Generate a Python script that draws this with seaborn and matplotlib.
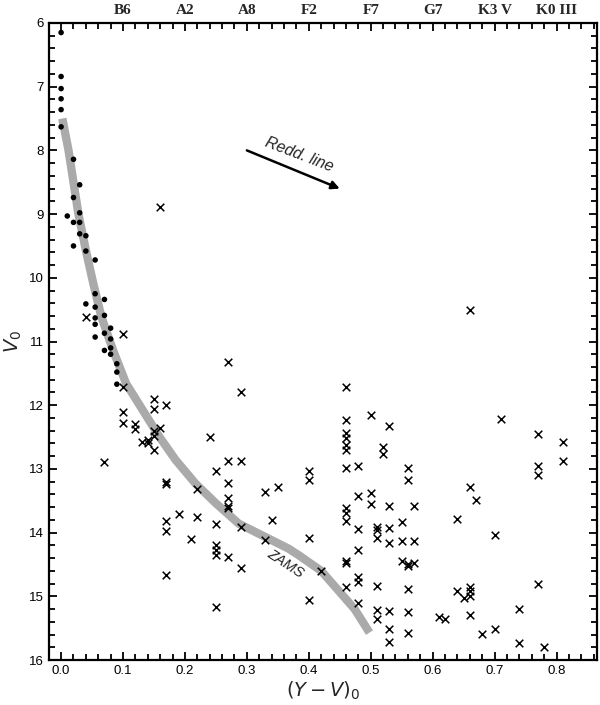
import matplotlib
matplotlib.use("Agg")
import matplotlib.pyplot as plt
from matplotlib.ticker import MultipleLocator
import pandas as pd
import seaborn as sns

# early-type stars (filled dots)
dot_x = [0.0, 0.0, 0.0, 0.0, 0.0, 0.0,
         0.02, 0.03, 0.02, 0.03, 0.01, 0.02, 0.03, 0.03, 0.04, 0.02, 0.04, 0.055,
         0.055, 0.07, 0.04, 0.055, 0.07, 0.055, 0.055, 0.08, 0.07, 0.055, 0.08,
         0.08, 0.07, 0.08, 0.09, 0.09, 0.09]
dot_v = [6.15, 6.84, 7.03, 7.19, 7.36, 7.63,
         8.14, 8.54, 8.74, 8.98, 9.03, 9.13, 9.13, 9.31, 9.34, 9.50, 9.58, 9.72,
         10.25, 10.34, 10.41, 10.46, 10.59, 10.63, 10.73, 10.79, 10.87, 10.93, 10.96,
         11.10, 11.14, 11.20, 11.35, 11.48, 11.67]

# other stars (crosses)
cross_x = [0.04, 0.10, 0.16, 0.10, 0.15, 0.17, 0.15, 0.10, 0.10, 0.12, 0.12, 0.16,
           0.15, 0.15, 0.13, 0.14, 0.14, 0.15, 0.07, 0.27, 0.29, 0.24, 0.27, 0.29,
           0.25, 0.17, 0.17, 0.27, 0.22, 0.27, 0.27, 0.27, 0.33, 0.35, 0.40, 0.40,
           0.19, 0.22, 0.17, 0.25, 0.34, 0.17, 0.29, 0.21, 0.33, 0.40, 0.25, 0.25,
           0.25, 0.27, 0.29, 0.17, 0.25, 0.42, 0.40,
           0.46, 0.46, 0.50, 0.53, 0.46, 0.46, 0.46, 0.46, 0.52, 0.52, 0.46, 0.48,
           0.56, 0.56, 0.48, 0.50, 0.50, 0.53, 0.57, 0.46, 0.46, 0.46, 0.55, 0.48,
           0.51, 0.51, 0.51, 0.53, 0.53, 0.55, 0.57, 0.48, 0.46, 0.46, 0.55, 0.56,
           0.56, 0.57, 0.48, 0.48, 0.46, 0.51, 0.56, 0.48, 0.51, 0.51, 0.53, 0.56,
           0.53, 0.53, 0.56,
           0.66, 0.71, 0.77, 0.81, 0.81, 0.77, 0.77, 0.66, 0.67, 0.64, 0.70, 0.64,
           0.66, 0.66, 0.66, 0.65, 0.66, 0.61, 0.62, 0.68, 0.70, 0.74, 0.74, 0.77,
           0.78]
cross_v = [10.61, 10.89, 8.89, 11.71, 11.91, 11.99, 12.06, 12.10, 12.28, 12.30, 12.38, 12.36,
           12.40, 12.49, 12.57, 12.54, 12.59, 12.71, 12.89, 11.32, 11.79, 12.50, 12.88, 12.88,
           13.03, 13.20, 13.23, 13.22, 13.31, 13.46, 13.59, 13.62, 13.37, 13.29, 13.03, 13.17,
           13.71, 13.76, 13.81, 13.86, 13.80, 13.97, 13.91, 14.10, 14.11, 14.09, 14.19, 14.27,
           14.35, 14.38, 14.55, 14.67, 15.17, 14.60, 15.05,
           11.71, 12.23, 12.15, 12.33, 12.44, 12.52, 12.62, 12.71, 12.65, 12.76, 12.98, 12.96,
           12.99, 13.18, 13.42, 13.38, 13.55, 13.59, 13.58, 13.62, 13.69, 13.81, 13.83, 13.94,
           13.91, 13.96, 14.08, 13.93, 14.16, 14.13, 14.13, 14.28, 14.44, 14.47, 14.45, 14.50,
           14.53, 14.47, 14.69, 14.78, 14.86, 14.84, 14.88, 15.11, 15.21, 15.35, 15.23, 15.25,
           15.52, 15.71, 15.57,
           10.50, 12.22, 12.45, 12.58, 12.88, 12.96, 13.09, 13.29, 13.49, 13.78, 14.04, 14.91,
           14.86, 14.91, 15.00, 15.02, 15.29, 15.32, 15.35, 15.59, 15.52, 15.20, 15.73, 14.81,
           15.80]

# zero-age main sequence, read along the grey band
zams_x = [0.002, 0.012, 0.028, 0.040, 0.052, 0.065, 0.084, 0.105, 0.132, 0.159, 0.185,
          0.217, 0.250, 0.287, 0.330, 0.367, 0.383, 0.420, 0.447, 0.474, 0.498]
zams_v = [7.50, 8.00, 9.00, 9.57, 10.09, 10.61, 11.14, 11.66, 12.08, 12.50, 12.86,
          13.23, 13.54, 13.86, 14.07, 14.25, 14.35, 14.60, 14.90, 15.20, 15.57]

# spectral types along the top axis
sp_pos = [0.1, 0.2, 0.3, 0.4, 0.5, 0.6, 0.7, 0.8]
sp_labels = ["B6", "A2", "A8", "F2", "F7", "G7", "K3 V", "K0 III"]

dots = pd.DataFrame({"yv": dot_x, "v0": dot_v})
crosses = pd.DataFrame({"yv": cross_x, "v0": cross_v})
zams = pd.DataFrame({"yv": zams_x, "v0": zams_v})

sns.set_style("ticks")
plt.rcParams["font.family"] = ["Liberation Sans", "DejaVu Sans"]
plt.rcParams["mathtext.fontset"] = "dejavusans"

fig = plt.figure(figsize=(6, 7.05), dpi=100)
ax = fig.add_axes([0.0817, 0.0638, 0.9133, 0.9036])

sns.lineplot(data=zams, x="yv", y="v0", sort=False, estimator=None,
             color="#aaaaaa", linewidth=6, solid_capstyle="butt",
             solid_joinstyle="round", ax=ax, zorder=1)
sns.scatterplot(data=dots, x="yv", y="v0", marker="o", s=16, color="black",
                edgecolor="none", ax=ax, zorder=3)
sns.scatterplot(data=crosses, x="yv", y="v0", marker="x", s=30, color="black",
                linewidth=1.1, ax=ax, zorder=3)

ax.set_xlim(-0.0195, 0.8654)
ax.set_ylim(16, 6)
ax.xaxis.set_major_locator(MultipleLocator(0.1))
ax.xaxis.set_minor_locator(MultipleLocator(0.02))
ax.yaxis.set_major_locator(MultipleLocator(1))
ax.yaxis.set_minor_locator(MultipleLocator(0.2))
ax.xaxis.set_major_formatter(plt.FuncFormatter(lambda v, p: f"{v:.1f}"))
ax.tick_params(which="both", direction="in", top=True, right=True, width=1.3,
               labelsize=9.5, colors="black")
ax.tick_params(which="major", length=6)
ax.tick_params(which="minor", length=4)
for sp in ax.spines.values():
    sp.set_linewidth(1.6)
    sp.set_color("black")

sec = ax.secondary_xaxis("top")
sec.set_xticks(sp_pos, sp_labels, fontfamily="Liberation Serif", fontsize=11,
               fontweight="bold")
sec.tick_params(length=0, pad=4)
sec.spines["top"].set_visible(False)

ax.set_xlabel(r"$(Y-V)_0$", fontsize=14, labelpad=2)
ax.set_ylabel(r"$V_0$", fontsize=14, labelpad=4)

ax.annotate("", xy=(0.45, 8.6), xytext=(0.30, 8.0),
            arrowprops=dict(arrowstyle="-|>", color="black", lw=1.8,
                            mutation_scale=12, shrinkA=0, shrinkB=0))
ax.text(0.385, 8.07, "Redd. line", fontsize=11.5, style="italic",
        rotation=-21, ha="center", va="center")
ax.text(0.362, 14.48, "ZAMS", fontsize=10.5, style="italic",
        rotation=-33, ha="center", va="center")

fig.savefig("out.png", dpi=100)
